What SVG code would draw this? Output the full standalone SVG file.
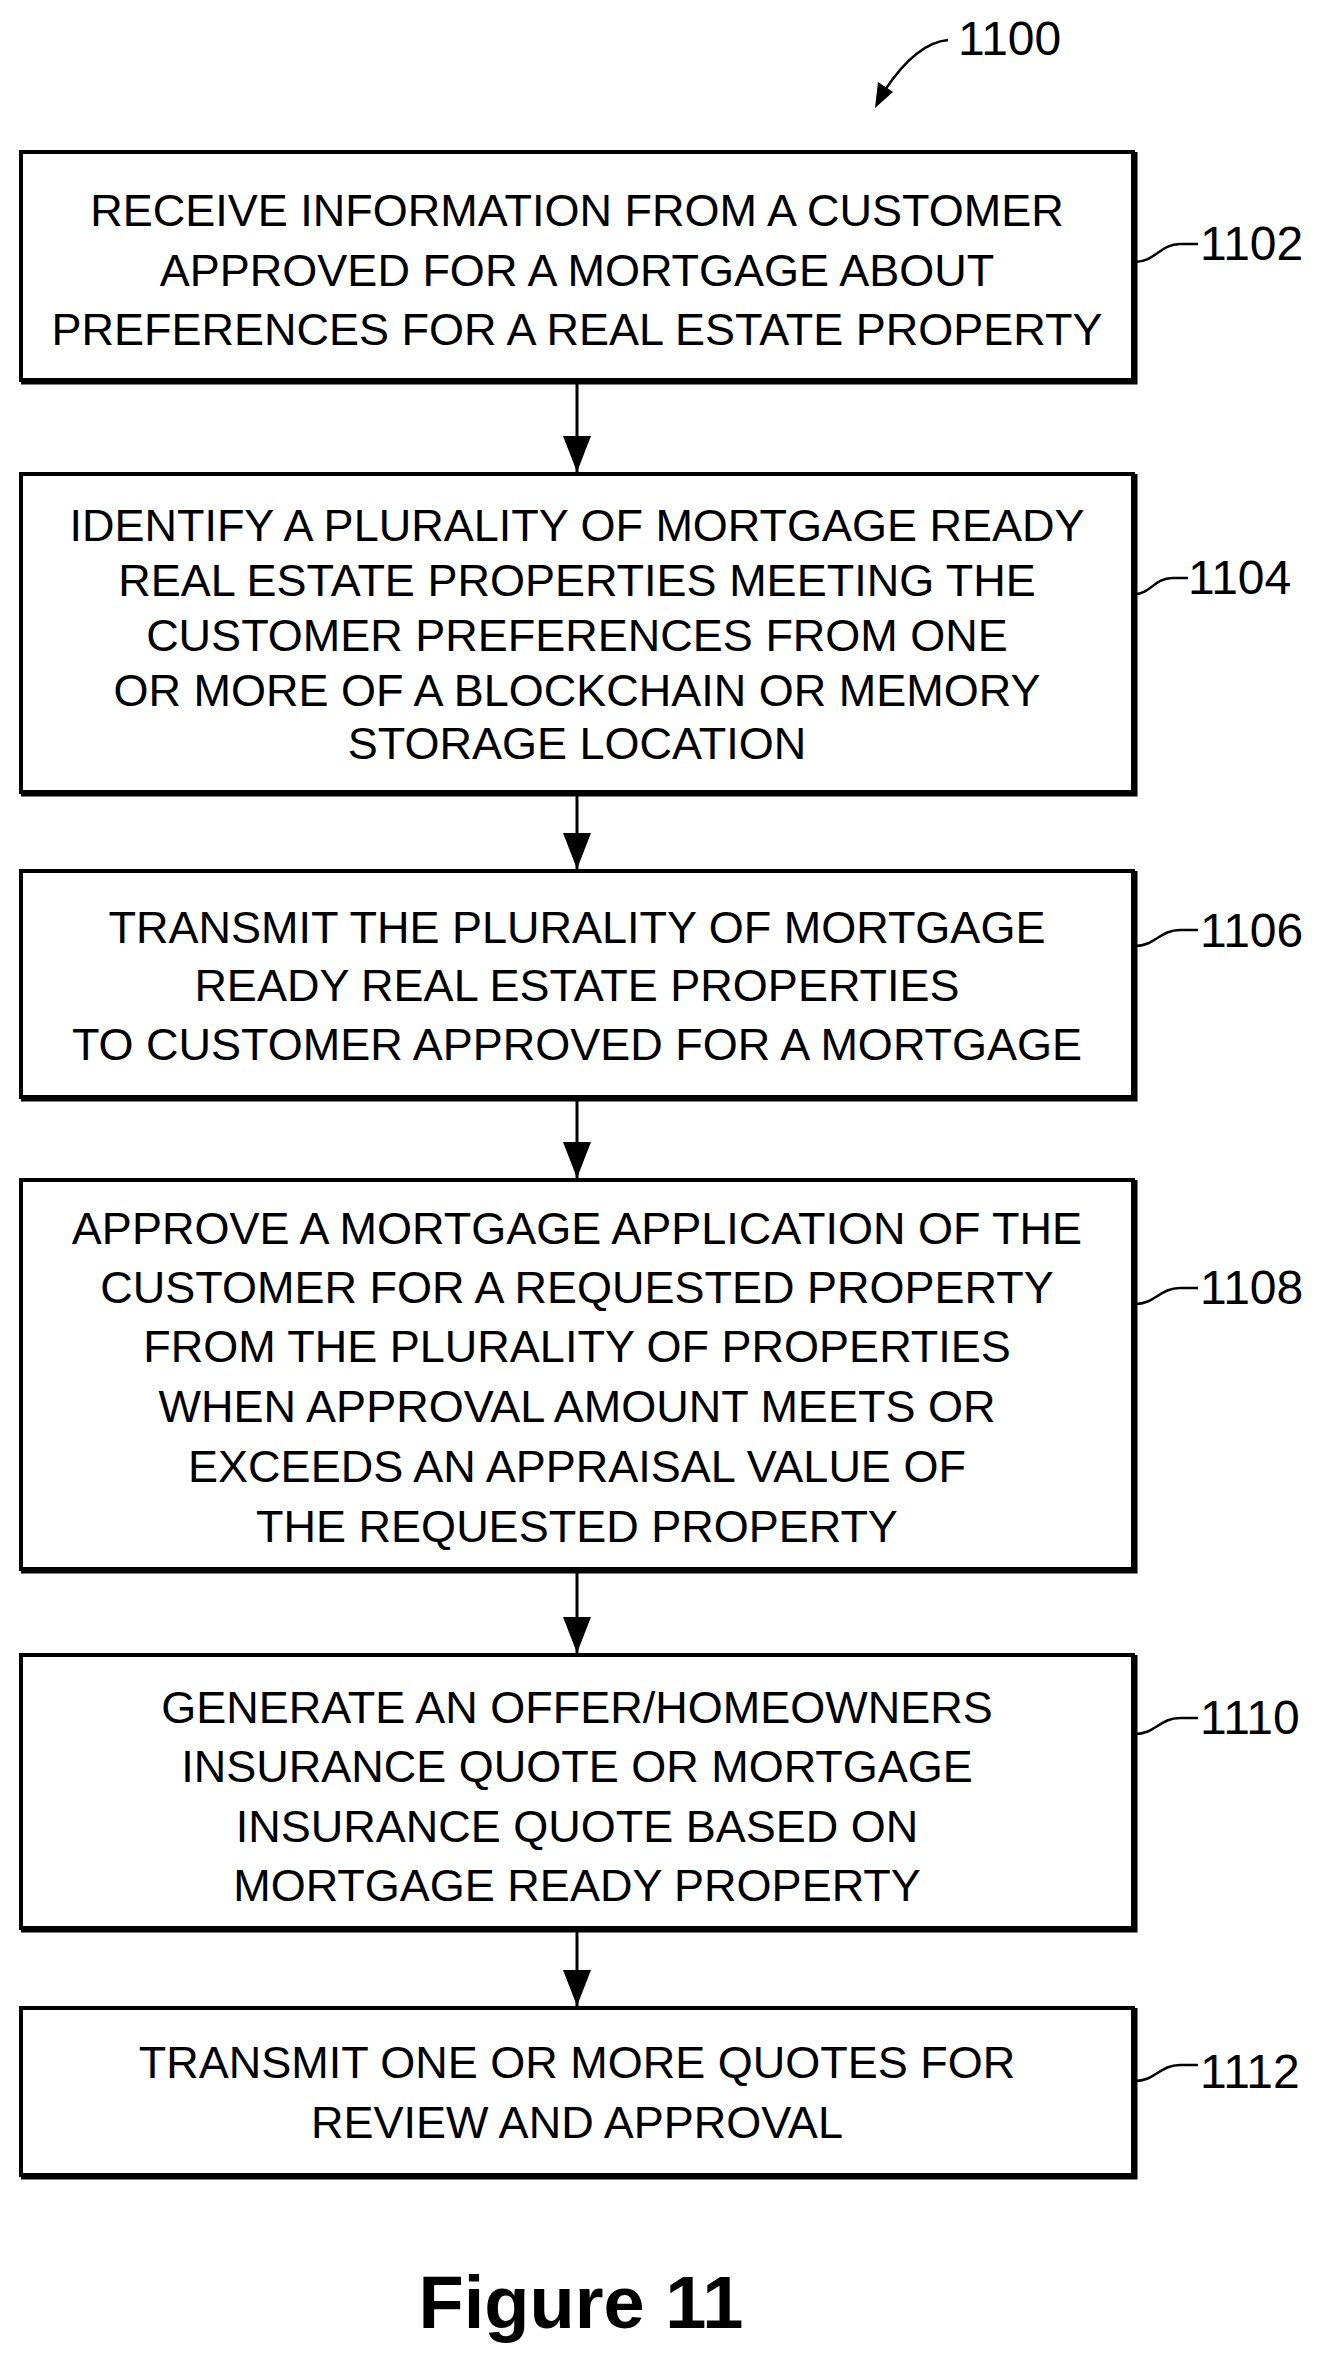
<svg xmlns="http://www.w3.org/2000/svg" width="1328" height="2365" viewBox="0 0 1328 2365">
<style>
.box{fill:#fff;stroke:#000;stroke-width:4}
.sh{stroke:#000;stroke-width:5;fill:none}
.t{font-family:"Liberation Sans",Arial,sans-serif;font-size:45px;text-anchor:middle;fill:#000}
.lb{font-family:"Liberation Sans",Arial,sans-serif;font-size:48px;fill:#000}
.ld{fill:none;stroke:#000;stroke-width:2.5}
.c{stroke:#000;stroke-width:3;fill:none}
</style>
<defs>
<marker id="ah" markerWidth="36" markerHeight="28" refX="36" refY="14" orient="auto" markerUnits="userSpaceOnUse" viewBox="0 0 36 28"><path d="M0,0 L36,14 L0,28 Z" fill="#000"/></marker>
</defs>
<g id="connectors">
<line class="c" x1="577" y1="384" x2="577" y2="472" marker-end="url(#ah)"/>
<line class="c" x1="577" y1="795" x2="577" y2="869" marker-end="url(#ah)"/>
<line class="c" x1="577" y1="1100" x2="577" y2="1178" marker-end="url(#ah)"/>
<line class="c" x1="577" y1="1572" x2="577" y2="1653" marker-end="url(#ah)"/>
<line class="c" x1="577" y1="1931" x2="577" y2="2006" marker-end="url(#ah)"/>
</g>
<g id="label1100">
<text class="lb" x="958" y="55">1100</text>
<path class="ld" d="M948,40 C925,42 905,60 885,90"/>
<path d="M875,108 L878,82 L893,92 Z" fill="#000"/>
</g>
<g id="n1102">
<rect class="box" x="21" y="152" width="1112" height="228"/>
<path class="sh" d="M21,382 H1135 V152"/>
<text class="t" x="577" y="226">RECEIVE INFORMATION FROM A CUSTOMER</text>
<text class="t" x="577" y="286">APPROVED FOR A MORTGAGE ABOUT</text>
<text class="t" x="577" y="345">PREFERENCES FOR A REAL ESTATE PROPERTY</text>
<path class="ld" d="M1135,262 C1155,262 1160,244 1180,244 L1198,244"/>
<text class="lb" x="1200" y="260">1102</text>
</g>
<g id="n1104">
<rect class="box" x="21" y="474" width="1112" height="318"/>
<path class="sh" d="M21,794 H1135 V474"/>
<text class="t" x="577" y="541">IDENTIFY A PLURALITY OF MORTGAGE READY</text>
<text class="t" x="577" y="596">REAL ESTATE PROPERTIES MEETING THE</text>
<text class="t" x="577" y="651">CUSTOMER PREFERENCES FROM ONE</text>
<text class="t" x="577" y="706">OR MORE OF A BLOCKCHAIN OR MEMORY</text>
<text class="t" x="577" y="759">STORAGE LOCATION</text>
<path class="ld" d="M1135,594 C1150,594 1155,578 1172,578 L1188,578"/>
<text class="lb" x="1188" y="594">1104</text>
</g>
<g id="n1106">
<rect class="box" x="21" y="871" width="1112" height="226"/>
<path class="sh" d="M21,1099 H1135 V871"/>
<text class="t" x="577" y="943">TRANSMIT THE PLURALITY OF MORTGAGE</text>
<text class="t" x="577" y="1001">READY REAL ESTATE  PROPERTIES</text>
<text class="t" x="577" y="1060">TO CUSTOMER APPROVED FOR A MORTGAGE</text>
<path class="ld" d="M1135,946 C1155,946 1160,930 1180,930 L1198,930"/>
<text class="lb" x="1200" y="947">1106</text>
</g>
<g id="n1108">
<rect class="box" x="21" y="1180" width="1112" height="389"/>
<path class="sh" d="M21,1571 H1135 V1180"/>
<text class="t" x="577" y="1244">APPROVE A MORTGAGE APPLICATION OF THE</text>
<text class="t" x="577" y="1303">CUSTOMER  FOR A REQUESTED PROPERTY</text>
<text class="t" x="577" y="1362">FROM THE PLURALITY OF PROPERTIES</text>
<text class="t" x="577" y="1422">WHEN APPROVAL AMOUNT MEETS OR</text>
<text class="t" x="577" y="1482">EXCEEDS AN APPRAISAL VALUE OF</text>
<text class="t" x="577" y="1542">THE REQUESTED PROPERTY</text>
<path class="ld" d="M1135,1304 C1155,1304 1160,1288 1180,1288 L1198,1288"/>
<text class="lb" x="1200" y="1304">1108</text>
</g>
<g id="n1110">
<rect class="box" x="21" y="1655" width="1112" height="273"/>
<path class="sh" d="M21,1930 H1135 V1655"/>
<text class="t" x="577" y="1723">GENERATE AN OFFER/HOMEOWNERS</text>
<text class="t" x="577" y="1782">INSURANCE QUOTE OR MORTGAGE</text>
<text class="t" x="577" y="1842">INSURANCE QUOTE BASED ON</text>
<text class="t" x="577" y="1901">MORTGAGE READY PROPERTY</text>
<path class="ld" d="M1135,1734 C1155,1734 1160,1718 1180,1718 L1198,1718"/>
<text class="lb" x="1200" y="1734">1110</text>
</g>
<g id="n1112">
<rect class="box" x="21" y="2008" width="1112" height="167"/>
<path class="sh" d="M21,2177 H1135 V2008"/>
<text class="t" x="577" y="2078">TRANSMIT ONE OR MORE QUOTES FOR</text>
<text class="t" x="577" y="2138">REVIEW AND APPROVAL</text>
<path class="ld" d="M1135,2081 C1155,2081 1160,2065 1180,2065 L1198,2065"/>
<text class="lb" x="1200" y="2088">1112</text>
</g>
<text x="581" y="2328" style="font-family:'Liberation Sans',Arial,sans-serif;font-size:74px;font-weight:bold;text-anchor:middle">Figure 11</text>
</svg>
